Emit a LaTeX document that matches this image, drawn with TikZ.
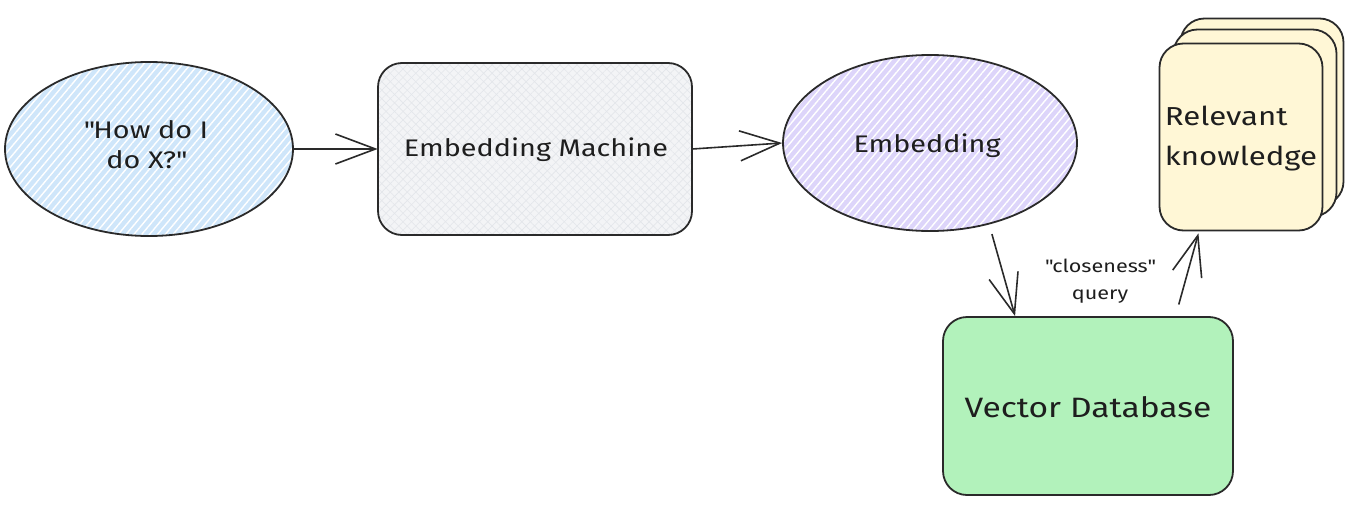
\documentclass[tikz,border=0pt]{standalone}
\usepackage{fontspec}
\setmainfont{Fira Sans}[FakeStretch=1.2]
\usetikzlibrary{shapes.geometric,arrows.meta,calc,patterns.meta}
\definecolor{ink}{HTML}{2A2A2A}
\definecolor{txt}{HTML}{1E1E1E}
\definecolor{qblue}{HTML}{CFE6FA}
\definecolor{elav}{HTML}{DDD5FA}
\definecolor{mgray}{HTML}{F3F4F6}
\definecolor{mgrayl}{HTML}{E3E6EA}
\definecolor{kyel}{HTML}{FFF7D6}
\definecolor{vgreen}{HTML}{B2F2BB}
\newcommand{\dq}{\XeTeXglyph\XeTeXcharglyph"22\relax}
\tikzset{
  shape outline/.style={draw=ink, line width=1.8pt},
  hatchfill/.style={preaction={fill=#1}, pattern={Lines[angle=50,distance=6pt,line width=1.4pt]}, pattern color=white},
  crossfill/.style={preaction={fill=mgray},
     preaction={pattern={Lines[angle=45,distance=6pt,line width=0.6pt]}, pattern color=mgrayl},
     pattern={Lines[angle=-45,distance=6pt,line width=0.6pt]}, pattern color=mgrayl},
  roundbox/.style={shape outline, rectangle, rounded corners=24pt, inner sep=0pt},
  oval/.style={shape outline, ellipse, inner sep=0pt},
  label text/.style={text=txt, font=\fontsize{24}{30}\selectfont, align=center},
  conn/.style={draw=ink, line width=1.6pt, -{Straight Barb[length=40pt,width=30pt,line width=1.6pt]}},
}
\begin{document}
\begin{tikzpicture}[x=1pt,y=-1pt]
\useasboundingbox (0,0) rectangle (1356,506);
% question ellipse
\node[oval, hatchfill=qblue, minimum width=288pt, minimum height=174pt] (q) at (149,149) {};
\node[label text] (qt) at (146,145) {\dq How do I\\do X?\dq};
% embedding machine
\node[roundbox, crossfill, minimum width=314pt, minimum height=172pt] (em) at (535,149) {};
\node[label text] (emt) at (536,150) {Embedding Machine};
% embedding ellipse
\node[oval, hatchfill=elav, minimum width=294pt, minimum height=176pt] (ee) at (930,143) {};
\node[label text] (eet) at (927,146) {Embedding};
% relevant knowledge stack
\node[roundbox, fill=kyel, minimum width=163pt, minimum height=187pt] (rk3) at (1262,112) {};
\node[roundbox, fill=kyel, minimum width=163pt, minimum height=187pt] (rk2) at (1255,123) {};
\node[roundbox, fill=kyel, minimum width=163pt, minimum height=187pt] (rk) at (1241,137) {};
\node[label text, align=left, font=\fontsize{26}{40}\selectfont] (rkt) at (1241,139) {Relevant\\knowledge};
% vector database
\node[roundbox, fill=vgreen, minimum width=290pt, minimum height=178pt] (vdb) at (1088,406) {};
\node[label text, font=\fontsize{28}{34}\selectfont] (vdbt) at (1088,407) {Vector Database};
% connectors
\draw[conn] (q.east) -- (em.west);
\draw[conn] (em.east) -- (ee.west);
\draw[conn, shorten <=10pt] (ee.-54) -- ($(vdb.north west)!0.25!(vdb.north east)$);
\draw[conn, shorten <=12pt, shorten >=2pt] ($(vdb.north west)!0.8!(vdb.north east)$) -- ($(rk.south west)!0.245!(rk.south east)$);
\node[label text, font=\fontsize{18}{27}\selectfont] (cq) at (1100,281) {\dq closeness\dq\\query};
\end{tikzpicture}
\end{document}
